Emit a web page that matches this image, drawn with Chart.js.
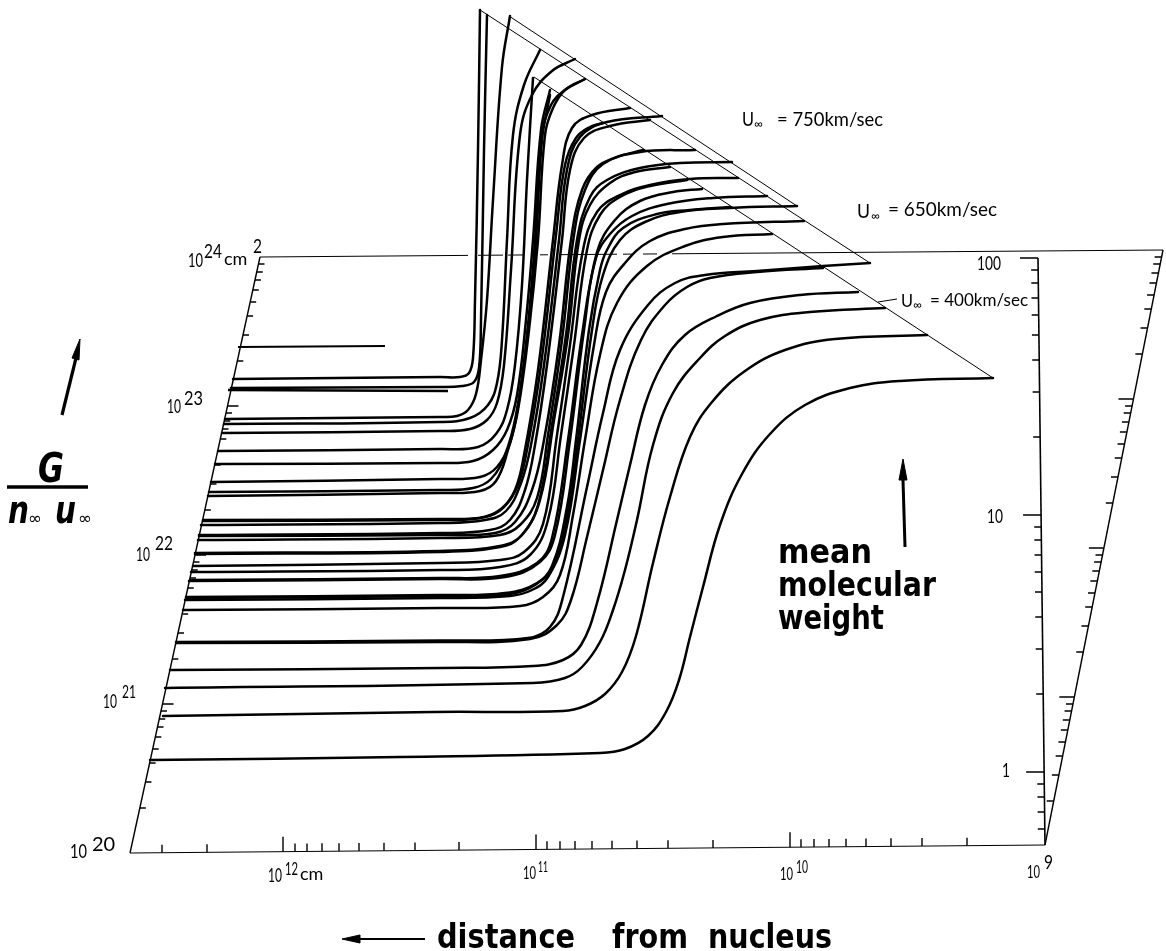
<!DOCTYPE html>
<html><head><meta charset="utf-8">
<script src="https://cdn.jsdelivr.net/npm/chart.js@4/dist/chart.umd.min.js"></script>
<style>html,body{margin:0;padding:0;background:#fff}canvas{display:block}</style>
</head><body><canvas id="c" width="1166" height="951"></canvas>
<script>
// Curves, named by the height of their plateau; [distance position, G position]
const p378=[[233,379],[440,377],[460,377],[469,373],[473,358],[475,300],[478,150],[480,10]];
const p387=[[231,388],[440,387],[462,386],[474,382],[479,368],[481,320],[484,150],[487,15]];
const p418=[[225,419],[440,417],[457,416],[468,410],[476,394],[481,360],[487,300],[493,200],[502,67],[510,16]];
const p423=[[224,424],[440,422],[470,418],[488,405],[497,383],[502,340],[507,240],[513,135],[524,85],[540,50]];
const p432=[[222,433],[440,431],[470,429],[487,420],[497,403],[504,365],[511,270],[520,135],[532,95],[552,71],[575,59]];
const p450=[[218,451],[440,449],[478,447],[496,434],[507,410],[515,365],[522,285],[527,180],[533,78]];
const p463=[[215,464],[440,463],[473,461],[493,450],[507,430],[517,395],[526,320],[533,240],[541,130],[550,90]];
const p481=[[211,482],[440,479],[480,477],[497,467],[510,443],[519,400],[528,325],[535,240],[541,140],[551,105],[565,90],[585,79]];
const p491=[[209,492],[440,490],[473,488],[491,479],[505,455],[516,415],[527,340],[536,240],[542,140],[550,95]];
const p495=[[208,496],[440,493],[480,491],[496,481],[508,450],[518,410],[529,330],[538,240],[545,135],[553,108],[565,90],[585,79]];
const p520=[[203,521],[440,520],[480,518],[501,509],[515,490],[524,455],[538,370],[553,240],[562,165],[572,128],[592,115],[630,108]];
const p520b=[[203,520],[440,519],[485,517],[504,507],[518,485],[527,450],[541,365],[556,235],[565,165],[576,138],[590,127],[603,123]];
const p523=[[201,525],[440,523],[485,520],[506,511],[521,483],[531,445],[544,365],[559,240],[567,170],[580,137],[607,122],[662,116]];
const p533=[[199,535],[440,533],[490,530],[510,520],[525,490],[535,445],[547,365],[562,240],[570,170],[584,138],[610,126],[650,120]];
const p534=[[199,536],[440,535],[495,533],[515,522],[532,490],[544,440],[559,345],[571,240],[582,190],[597,167],[617,157],[643,150]];
const p538=[[198,540],[440,538],[500,535],[520,525],[537,498],[548,435],[562,340],[574,235],[585,190],[603,164],[640,152],[695,150]];
const p552=[[195,554],[440,552],[500,547],[520,537],[538,505],[552,425],[566,335],[577,240],[590,197],[607,180],[640,168],[680,163],[732,162]];
const p551=[[195,553],[440,551],[500,546],[522,535],[540,500],[554,420],[568,335],[579,240],[590,205],[610,183],[635,172],[670,167]];
const p563=[[193,566],[440,563],[500,560],[524,552],[543,524],[557,435],[570,345],[583,250],[597,212],[620,195],[650,185],[690,179],[738,178]];
const p570=[[191,572],[440,570],[500,567],[530,555],[548,520],[561,435],[574,345],[587,250],[600,215],[620,197],[650,186],[687,180]];
const p578=[[190,580],[440,578],[500,576],[537,563],[552,538],[568,440],[582,335],[596,258],[610,234],[632,216],[667,204],[713,198],[767,196]];
const p579=[[189,581],[440,579],[505,577],[540,562],[555,535],[570,440],[584,330],[597,252],[615,220],[640,201],[673,192],[702,189]];
const p595=[[186,597],[440,595],[505,593],[537,583],[555,563],[569,505],[578,440],[592,330],[603,275],[620,240],[645,222],[680,212],[730,208],[797,206]];
const p596=[[186,598],[440,596],[510,594],[535,585],[552,566],[567,507],[576,440],[589,330],[600,270],[607,250],[623,228],[657,214],[690,210],[730,207]];
const p598=[[185,600],[440,598],[510,596],[532,590],[548,577],[565,535],[580,440],[594,345],[606,292],[625,263],[650,241],[685,229],[723,224],[804,221]];
const p608=[[183,610],[440,608],[520,606],[543,597],[560,575],[573,515],[585,440],[600,355],[617,303],[647,266],[685,246],[723,237],[772,234]];
const p642a=[[176,642],[440,640.5],[528,638],[550,627],[563,597],[587,487],[603,413],[620,350],[648,305],[675,283],[705,275],[757,271],[823,266],[870,263]];
const p642b=[[176,643],[440,642],[530,639],[557,625],[571,600],[587,537],[603,470],[620,400],[641,340],[665,305],[687,287],[710,278],[757,272],[823,268]];
const p670=[[170,670],[440,668],[533,666],[563,660],[581,645],[597,603],[617,520],[630,465],[645,405],[662,365],[685,335],[717,316],[750,303],[800,295],[858,292]];
const p688=[[165,688],[533,683],[565,678],[582,667],[600,642],[613,610],[625,570],[637,520],[653,445],[673,393],[700,358],[725,336],[760,320],[810,312],[885,308]];
const p715=[[163,716],[433,712],[563,711],[585,706],[605,694],[622,672],[636,636],[653,563],[670,497],[690,437],[712,402],[745,371],[785,350],[835,339],[927,335]];
const p759=[[150,760],[400,757],[600,753],[625,749],[648,736],[666,712],[679,680],[690,637],[703,587],[720,525],[742,474],[770,434],[805,405],[850,388],[900,381],[993,378]];
const short347=[[238,347],[385,346]];
const short391=[[228,390],[448,391]];
const curveSeries=[p378,p387,p418,p423,p432,p450,p463,p481,p491,p495,p520,p520b,p523,p533,p534,p538,p552,p551,p563,p570,p578,p579,p595,p596,p598,p608,p642a,p642b,p670,p688,p715,p759];

// Frame of the perspective box
const velocity750=[[509,16],[797,206]];
const velocity650=[[480,10],[870,263]];
const velocity400=[[534,77],[993,378]];
const leftAxis=[[130,853],[260,257]];
const bottomAxis=[[130,853],[1045,845]];
const massAxis=[[1038,258],[1045,845]];
const farAxis=[[1045,845],[1163,250]];
const topEdgeStops=[[260,468],[478,503],[508,523],[540,548],[560,617],[623,633],[643,657],[672,1163]];
const leader400=[[878,302],[897,299]];

// Logarithmic tick positions
const bottomLong=[283,536,790];
const bottomShort=[162,207,295,307,322,339,359,384,415,459,547,560,575,592,612,637,668,713,801,814,829,846,866,891,922,967];
const leftLong=[406,555,704];
const leftShort=[264,272,280,290,302,316,335,361,413,421,429,439,451,465,484,510,562,570,578,588,600,614,633,659,711,719,727,737,749,763,782,808];
const massLong=[258,515,772];
const massShort=[270,283,298,315,335,360,392,437,527,540,555,572,592,617,649,694,784,797,812,829];
const farLong=[399,548,697];
const farShort=[257,264,273,283,295,309,328,354,406,413,422,432,444,458,477,503,555,562,571,581,593,607,626,652,704,711,720,730,742,756,775,801];

// Arrows
const arrowG=[[62,415],[76,358]];
const arrowGHead=[[72,358],[80,339],[79,360],[72,358]];
const arrowMass=[[905,547],[903,480]];
const arrowMassHead=[[899,480],[903,459],[907,480],[899,480]];
const arrowDist=[[425,939],[358,939]];
const arrowDistHead=[[360,935],[342,939],[360,943],[360,935]];
const fractionBar=[[7,487],[88,487]];

// Text: text, left, baseline, size, width
const labels=[
 ['10',188,267,19,15],['24',204,258,20,18],['cm',224,265,18,25],['2',253,253,20,9],
 ['10',167,413,19,14],['23',184,405,20,19],
 ['10',136,561,19,14],['22',155,550,20,18],
 ['10',103,708,19,14],['21',122,698,18,14],
 ['10',70,858,19,17],['20',92,851,20,25],
 ['10',268,882,19,14],['12',285,875,18,13],['cm',300,880,18,25],
 ['10',523,879,18,13],['11',538,872,16,10],
 ['10',780,880,18,13],['10',796,873,17,12],
 ['10',1027,878,18,13],['9',1044,869,20,9],
 ['100',977,270,19,24],['10',987,523,19,16],['1',1002,777,19,8],
 ['U',742,126,19,12],['∞',754,128,12,12],['= 750km/sec',777,126,19,106],
 ['U',857,218,19,13],['∞',871,220,12,12],['= 650km/sec',888,216,19,109],
 ['U',901,307,18,12],['∞',913,309,12,11],['= 400km/sec',930,306,18,98]
];
const boldLabels=[
 ['mean',778,563,33,94],['molecular',778,596,33,158],['weight',778,629,33,106],
 ['distance',437,948,33,138],['from',612,948,33,76],['nucleus',708,948,33,124]
];
const italicLabels=[
 ['G',38,482,41,26],['n',8,523,37,21],['u',55,523,37,21]
];
const infinitySmall=[['∞',28,524,17,14],['∞',78,524,17,14]];

function pts(a){return a.map(p=>({x:p[0],y:p[1]}));}
function frame(a,w){return {data:pts(a),borderColor:'#000',borderWidth:w,pointRadius:0,showLine:true,fill:false,tension:0};}
function curve(a,w){return {data:pts(a),borderColor:'#000',borderWidth:w,pointRadius:0,showLine:true,fill:false,tension:0.4,borderCapStyle:'round'};}
function poly(a){return {data:pts(a),borderColor:'#000',backgroundColor:'#000',borderWidth:1,pointRadius:0,showLine:true,fill:'shape',tension:0};}
function gaps(list){const out=[];list.forEach(s=>{s.forEach(p=>out.push(p));out.push([NaN,NaN]);});return out;}

const lx=y=>130+(853-y)*130/596, by=x=>853-(x-130)*8/915, mx=y=>1038+(y-258)*7/587, fx=y=>1045+(845-y)*118/595;
const tickSets=[
 gaps(bottomLong.map(x=>[[x,by(x)],[x,by(x)-15]])),
 gaps(bottomShort.map(x=>[[x,by(x)],[x,by(x)-8]])),
 gaps(leftLong.map(y=>[[lx(y),y],[lx(y)+11,y]])),
 gaps(leftShort.map(y=>[[lx(y),y],[lx(y)+6,y]])),
 gaps(massLong.map(y=>[[mx(y)-18,y],[mx(y),y]])),
 gaps(massShort.map(y=>[[mx(y)-7,y],[mx(y),y]])),
 gaps(farLong.map(y=>[[fx(y)-15,y],[fx(y),y]])),
 gaps(farShort.map(y=>[[fx(y)-7,y],[fx(y),y]]))
];
const topEdge=gaps(topEdgeStops.map(s=>[[s[0],257-(s[0]-260)*7/903],[s[1],257-(s[1]-260)*7/903]]));

const datasets=[
 frame(velocity750,1),frame(velocity650,1),frame(velocity400,1),
 frame(leftAxis,1.4),frame(bottomAxis,1.2),frame(massAxis,1.6),frame(farAxis,1.4),
 frame(topEdge,1),frame(leader400,1),
 ...tickSets.map(t=>frame(t,1.4)),
 ...curveSeries.map(c=>curve(c,2.5)),
 frame(short347,2),frame(short391,2.6),
 frame(arrowG,3.2),poly(arrowGHead),frame(arrowMass,3),poly(arrowMassHead),
 frame(arrowDist,2),poly(arrowDistHead),frame(fractionBar,3.4)
];

const textPlugin={id:'figureText',afterDatasetsDraw(ch){
  const c=ch.ctx,X=ch.scales.x,Y=ch.scales.y;
  c.save();c.fillStyle='#000';c.textAlign='left';c.textBaseline='alphabetic';
  const put=(l,font)=>{c.font=font;c.fillText(l[0],X.getPixelForValue(l[1]),Y.getPixelForValue(l[2]),l[4]);};
  labels.forEach(l=>put(l,l[3]+'px Lato, sans-serif'));
  boldLabels.forEach(l=>put(l,'bold '+l[3]+'px "DejaVu Sans", sans-serif'));
  italicLabels.forEach(l=>put(l,'italic bold '+l[3]+'px "DejaVu Sans", sans-serif'));
  infinitySmall.forEach(l=>put(l,l[3]+'px "DejaVu Sans", sans-serif'));
  c.restore();
}};

new Chart(document.getElementById('c'),{
 type:'scatter',
 data:{datasets},
 options:{responsive:false,animation:false,layout:{padding:0},
  plugins:{legend:{display:false},tooltip:{enabled:false},title:{display:false}},
  scales:{x:{type:'linear',min:0,max:1166,display:false},y:{type:'linear',min:0,max:951,reverse:true,display:false}}},
 plugins:[textPlugin]
});
</script></body></html>
